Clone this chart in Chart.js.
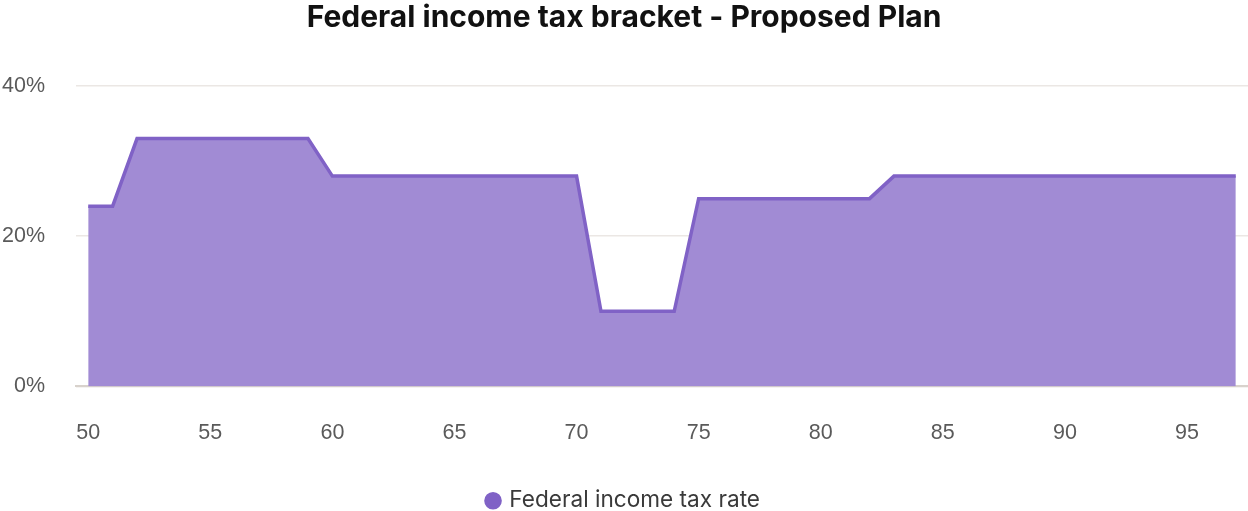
<!DOCTYPE html>
<html>
<head>
<meta charset="utf-8">
<script src="https://cdn.jsdelivr.net/npm/chart.js@4.4.1/dist/chart.umd.min.js"></script>
<style>
  html, body { margin: 0; padding: 0; background: #ffffff; overflow: hidden; }
  #wrap { width: 1248px; height: 522px; position: relative; }
</style>
</head>
<body>
<div id="wrap"><canvas id="chart"></canvas></div>
<script>
// Ages on the x axis
const ages = [50,51,52,53,54,55,56,57,58,59,60,61,62,63,64,65,66,67,68,69,70,71,72,73,74,75,76,77,78,79,80,81,82,83,84,85,86,87,88,89,90,91,92,93,94,95,96,97];
// Marginal federal income tax rate (%) for each age
const taxRate = [24,24,33,33,33,33,33,33,33,33,28,28,28,28,28,28,28,28,28,28,28,10,10,10,10,25,25,25,25,25,25,25,25,28,28,28,28,28,28,28,28,28,28,28,28,28,28,28];
// Rate gridlines
const rateTicks = [0, 20, 40];

const chartTitle = 'Federal income tax bracket - Proposed Plan';
const seriesName = 'Federal income tax rate';

new Chart(document.getElementById('chart'), {
  type: 'line',
  data: {
    labels: ages.map(String),
    datasets: [{
      label: seriesName,
      data: taxRate,
      borderColor: '#8062c6',
      backgroundColor: '#a18bd4',
      pointBackgroundColor: '#8062c6',
      pointBorderColor: '#8062c6',
      borderWidth: 3.5,
      pointRadius: 0,
      pointHoverRadius: 0,
      tension: 0,
      fill: 'origin'
    }]
  },
  options: {
    responsive: true,
    maintainAspectRatio: false,
    animation: false,
    layout: { padding: { top: 0, right: 0, bottom: 0, left: 0 } },
    plugins: {
      title: {
        display: true,
        text: chartTitle,
        color: '#111111',
        font: { family: 'Inter', size: 30, weight: '700' },
        padding: { top: 0, bottom: 50 }
      },
      legend: {
        position: 'bottom',
        labels: {
          usePointStyle: true,
          pointStyle: 'circle',
          boxWidth: 10,
          boxHeight: 10,
          color: '#3a3a3a',
          font: { family: 'Inter', size: 22.6 },
          padding: 3
        }
      },
      tooltip: { enabled: false }
    },
    scales: {
      x: {
        type: 'category',
        offset: true,
        afterFit: function(axis) { axis.height = 100; },
        grid: { display: false, drawTicks: false },
        border: { display: true, color: '#d8d2cc', width: 2 },
        ticks: {
          autoSkip: false,
          maxRotation: 0,
          padding: 34,
          color: '#5a5a5a',
          font: { family: 'Liberation Sans', size: 21.5 },
          callback: function(value) {
            const a = ages[value];
            return a % 5 === 0 ? String(a) : null;
          }
        }
      },
      y: {
        min: 0,
        max: 40,
        afterBuildTicks: function(axis) {
          axis.ticks = rateTicks.map(v => ({ value: v }));
        },
        afterFit: function(axis) { axis.width = 76; },
        grid: { color: '#ebe7e4', lineWidth: 1.5, drawTicks: false },
        border: { display: false },
        ticks: {
          padding: 31,
          color: '#5a5a5a',
          font: { family: 'Liberation Sans', size: 21.5 },
          callback: v => v + '%'
        }
      }
    }
  }
});
</script>
</body>
</html>
